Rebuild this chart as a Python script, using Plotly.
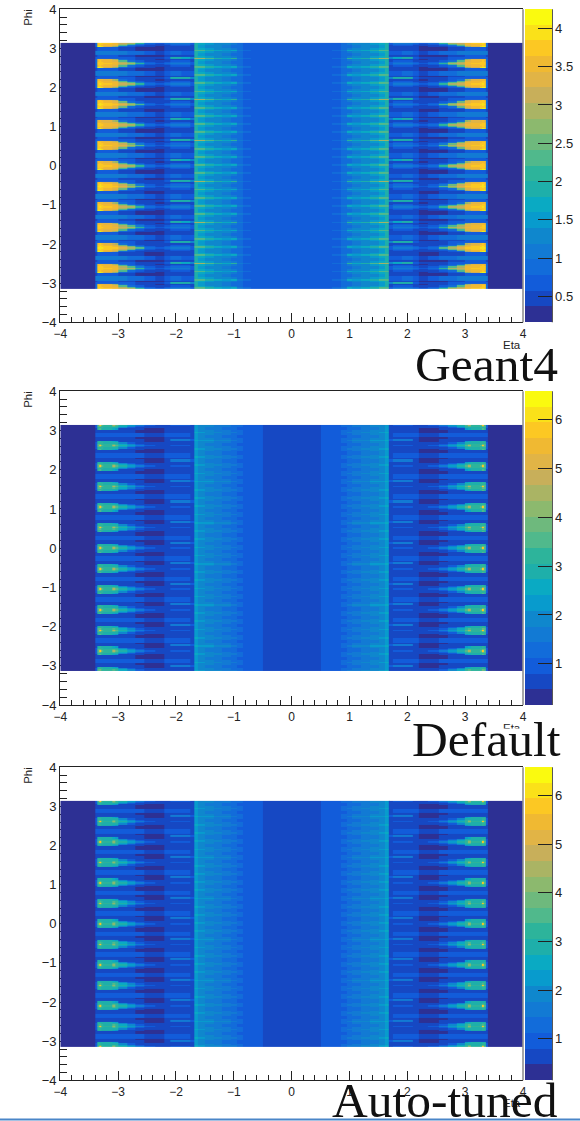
import math
import plotly.graph_objects as go

# ---------- palette (bottom to top) ----------
BAND_COLORS = ["#2d3094", "#1648c3", "#125cda", "#126cda", "#127ad4", "#0f87cd", "#089bcd", "#0aaac3",
               "#1eafaa", "#2db49b", "#50b98c", "#6eb97d", "#8cb96e", "#aab464", "#c8af5a", "#e1b446",
               "#f0b932", "#fcc823", "#fae119", "#fafa0f"]

# ---------- axes ----------
Z_RANGE_G4 = [0.16, 4.25]
Z_RANGE_TUNE = [0.15, 6.58]
Z_TICKS_G4 = [0.5, 1, 1.5, 2, 2.5, 3, 3.5, 4]
Z_TICKS_TUNE = [1, 2, 3, 4, 5, 6]
LABELS = ["Geant4", "Default", "Auto-tuned"]

# ---------- phi structure ----------
WEDGE_INDEX = [-6, -5, -4, -3, -2, -1, 0, 1, 2, 3, 4, 5, 6]
ROW_EDGES = [-0.2618, -0.20, -0.14, -0.115, -0.085, -0.05, -0.02, 0.02, 0.05, 0.085, 0.115, 0.17, 0.205, 0.2618]
ROW_CLASS = ["band", "dark", "dark", "edge3", "edge1", "mid", "core", "mid", "edge1", "edge2", "streak", "dark", "band"]
WEDGE_GAIN_G4 = [1.0, 0.99, 1.02, 0.98, 1.0, 1.02, 0.99, 1.01, 0.98, 1.02, 1.0, 0.99, 1.0]

# ---------- forward region, |eta| columns ----------
FWD_ETA = [1.68, 1.75, 1.9, 2.1, 2.2, 2.35, 2.55, 2.7, 2.85, 3.0, 3.05, 3.1, 3.25, 3.29, 3.33, 3.36, 3.4, 4.0]
FWD_G4 = {
    "dark":   [.55, .5, .5, .45, .34, .34, .36, .5, .55, .6, .6, .6, .65, .65, .6, .55, .2],
    "band":   [.7, .75, .8, .75, .55, .75, .95, .95, 1.0, 1.05, 1.05, 1.05, 1.1, 1.1, 1.05, 1.0, .2],
    "streak": [1.2, 1.8, 1.9, .7, .4, .42, .5, .6, .6, .65, .65, .65, .7, .7, .65, .6, .2],
    "core":   [.7, 1.0, 1.0, .8, .6, .9, 2.2, 2.9, 3.2, 3.6, 3.6, 3.7, 3.8, 3.85, 3.8, .9, .2],
    "mid":    [.6, .8, .8, .7, .5, .7, 1.0, 2.4, 3.0, 3.5, 3.5, 3.6, 3.7, 3.8, 3.75, .8, .2],
    "edge1":  [.55, .65, .65, .55, .42, .5, .7, .9, 2.4, 3.3, 3.3, 3.5, 3.6, 3.7, 3.65, .8, .2],
    "edge2":  [.5, .55, .55, .5, .36, .42, .55, .7, .8, 2.8, 3.0, 3.3, 3.5, 3.6, 3.5, .8, .2],
    "edge3":  [.5, .55, .55, .5, .36, .42, .55, .7, .8, 2.8, 3.0, 3.4, 3.9, 4.15, 4.1, .8, .2],
}
FWD_DEFAULT = {
    "dark":   [.55, .5, .5, .48, .42, .42, .45, .55, .58, .6, .6, .6, .62, .62, .6, .55, .2],
    "band":   [.75, .8, .85, .8, .52, .68, .95, .95, 1.0, 1.0, 1.0, 1.0, 1.05, 1.05, 1.0, .95, .2],
    "streak": [1.1, 1.5, 1.6, .65, .45, .46, .5, .6, .6, .6, .6, .6, .65, .65, .6, .55, .2],
    "core":   [.7, .9, .9, .75, .6, .8, 1.6, 2.2, 2.9, 3.4, 4.4, 3.2, 3.4, 5.9, 3.5, .8, .2],
    "mid":    [.6, .75, .75, .65, .52, .65, .9, 1.9, 2.7, 3.2, 3.5, 3.1, 3.3, 3.8, 3.4, .8, .2],
    "edge1":  [.55, .6, .6, .55, .5, .58, .7, .85, 2.0, 2.9, 3.0, 3.0, 3.1, 3.3, 3.2, .8, .2],
    "edge2":  [.52, .55, .55, .52, .45, .46, .55, .65, .75, 2.4, 2.6, 2.8, 3.0, 3.1, 3.0, .75, .2],
    "edge3":  [.52, .55, .55, .52, .45, .46, .55, .65, .75, 2.4, 2.6, 2.8, 3.0, 3.4, 3.1, .75, .2],
}
FWD_AUTO_RATIO = [1.0, 1.0, 1.0, 1.0, 1.0, 1.0, 1.0, 1.0, 1.0, 0.97, 0.97, 0.98, 0.98, 0.97, 0.98, 1.0, 1.0]

# ---------- barrel region, |eta| columns ----------
BAR_ETA = [0, 0.5, 0.7, 0.85, 0.95, 1.05, 1.2, 1.35, 1.5, 1.62, 1.69]
BAR_G4 = {
    "bg":     [.72, .73, .75, .85, .95, 1.1, 1.2, 1.3, 1.45, 1.85],
    "faint":  [.72, .73, .76, .92, 1.1, 1.25, 1.35, 1.5, 1.7, 2.0],
    "medium": [.72, .74, .8, 1.0, 1.65, 1.5, 1.6, 1.9, 2.3, 2.4],
    "strong": [.74, .76, .85, 1.1, 2.1, 1.7, 1.8, 2.3, 2.9, 3.0],
}
BAR_DEFAULT = {
    "bg":     [.76, .85, .9, 1.1, 1.2, 1.4, 1.5, 1.65, 1.8, 2.15],
    "faint":  [.76, .85, .92, 1.15, 1.35, 1.55, 1.65, 1.8, 1.95, 2.3],
    "medium": [.76, .85, .95, 1.2, 1.5, 1.75, 1.8, 2.0, 2.2, 2.45],
    "strong": [.77, .85, .95, 1.25, 1.6, 1.8, 1.95, 2.2, 2.4, 2.6],
}
BAR_AUTO_RATIO = [1.0, 1.0, 1.02, 1.0, 1.0, 1.0, 1.0, 1.0, 1.0, 1.0]
BAR_ROW_STEP_COUNT = 150
BAR_PATTERN = ["medium", "faint", "bg", "bg", "faint", "medium", "faint", "bg", "bg", "faint",
               "medium", "faint", "bg", "bg", "faint", "strong", "faint", "bg", "bg", "faint",
               "medium", "faint", "bg", "bg", "faint"]

# ---------- page geometry ----------
W, H = 580, 1121
PLOT_LEFT, PLOT_RIGHT = 60.3, 523.0
PANEL_TOP = [9.3, 391.3, 767.3]
PANEL_BOTTOM = [322.3, 705.0, 1080.3]
BAR_LEFT, BAR_RIGHT = 525.3, 552.3
FONT = "Liberation Sans"
INK = "#222222"


def px(v):
    return v / W


def py(v):
    return 1 - v / H


def wedge_rows():
    rows = []
    for n, k in enumerate(WEDGE_INDEX):
        center = k * math.pi / 6
        for i, cls in enumerate(ROW_CLASS):
            lo = max(center + ROW_EDGES[i], -math.pi)
            hi = min(center + ROW_EDGES[i + 1], math.pi)
            if hi > lo:
                rows.append((lo, hi, cls, n))
    return rows


def forward_z(table, gains=None, ratio=None):
    z = []
    for lo, hi, cls, n in wedge_rows():
        gain = gains[n] if gains else 1.0
        vals = [v * gain for v in table[cls]]
        if ratio:
            vals = [v * r for v, r in zip(vals, ratio)]
        z.append(vals)
    return z


def barrel_z(table, ratio=None):
    z = []
    for r in range(BAR_ROW_STEP_COUNT):
        vals = table[BAR_PATTERN[r % len(BAR_PATTERN)]]
        if ratio:
            vals = [v * q for v, q in zip(vals, ratio)]
        z.append(list(reversed(vals)) + list(vals))
    return z


ROWS = wedge_rows()
FWD_PHI = [r[0] for r in ROWS] + [ROWS[-1][1]]
BAR_PHI = [-math.pi + i * 2 * math.pi / BAR_ROW_STEP_COUNT for i in range(BAR_ROW_STEP_COUNT + 1)]
BAR_X = [-v for v in reversed(BAR_ETA)] + BAR_ETA[1:]
FWD_X_RIGHT = FWD_ETA
FWD_X_LEFT = [-v for v in reversed(FWD_ETA)]

PANELS = [
    (forward_z(FWD_G4, gains=WEDGE_GAIN_G4), barrel_z(BAR_G4), Z_RANGE_G4, Z_TICKS_G4),
    (forward_z(FWD_DEFAULT), barrel_z(BAR_DEFAULT), Z_RANGE_TUNE, Z_TICKS_TUNE),
    (forward_z(FWD_DEFAULT, ratio=FWD_AUTO_RATIO), barrel_z(BAR_DEFAULT, ratio=BAR_AUTO_RATIO), Z_RANGE_TUNE, Z_TICKS_TUNE),
]

n_bands = len(BAND_COLORS)
SCALE = []
for i, c in enumerate(BAND_COLORS):
    SCALE += [[i / n_bands, c], [(i + 1) / n_bands, c]]

fig = go.Figure()
layout = {}
shapes = []
annotations = []
for p, (fz, bz, zr, zt) in enumerate(PANELS):
    suffix = "" if p == 0 else str(p + 1)
    xa, ya, ca = "x" + suffix, "y" + suffix, "coloraxis" + suffix
    for x, y, z in [
        (BAR_X, BAR_PHI, bz),
        (FWD_X_LEFT, FWD_PHI, [list(reversed(r)) for r in fz]),
        (FWD_X_RIGHT, FWD_PHI, fz),
    ]:
        fig.add_trace(go.Heatmap(x=x, y=y, z=z, xaxis=xa, yaxis=ya, coloraxis=ca, hoverinfo="skip"))
    top, bottom = PANEL_TOP[p], PANEL_BOTTOM[p]
    layout["xaxis" + suffix] = dict(
        domain=[px(PLOT_LEFT), px(PLOT_RIGHT)], range=[-4, 4], anchor=ya, tick0=-4, dtick=1,
        ticks="inside", ticklen=9, tickcolor=INK, tickwidth=1, showgrid=False, zeroline=False,
        showline=True, linecolor=INK, linewidth=1.2, mirror=True, layer="below traces",
        tickfont=dict(family=FONT, size=12, color=INK),
        minor=dict(tick0=-4, dtick=0.2, ticks="inside", ticklen=5, tickcolor=INK, tickwidth=1, showgrid=False),
    )
    layout["yaxis" + suffix] = dict(
        domain=[py(bottom), py(top)], range=[-4, 4], anchor=xa, tick0=-4, dtick=1,
        ticks="inside", ticklen=14, tickcolor=INK, tickwidth=1, showgrid=False, zeroline=False,
        showline=True, linecolor=INK, linewidth=1.2, layer="below traces",
        tickfont=dict(family=FONT, size=13, color=INK),
        minor=dict(tick0=-4, dtick=0.2, ticks="inside", ticklen=7, tickcolor=INK, tickwidth=1, showgrid=False),
    )
    layout[ca] = dict(
        cmin=zr[0], cmax=zr[1], colorscale=SCALE,
        colorbar=dict(
            x=px(BAR_LEFT), xref="paper", xanchor="left", xpad=0, ypad=0,
            y=py(top), yref="paper", yanchor="top", len=bottom - top, lenmode="pixels",
            thickness=BAR_RIGHT - BAR_LEFT, thicknessmode="pixels", outlinewidth=0,
            tickmode="array", tickvals=zt, ticktext=[str(v) for v in zt],
            ticks="inside", ticklen=14, tickcolor=INK, tickwidth=1,
            tickfont=dict(family=FONT, size=13, color=INK),
        ),
    )
    # grey right edge of the frame and dark axis line of the colour bar
    shapes.append(dict(type="line", xref="paper", yref="paper", x0=px(PLOT_RIGHT), x1=px(PLOT_RIGHT),
                       y0=py(bottom), y1=py(top), line=dict(color="#8a8a8a", width=1.5), layer="above"))
    shapes.append(dict(type="line", xref="paper", yref="paper", x0=px(BAR_RIGHT), x1=px(BAR_RIGHT),
                       y0=py(bottom), y1=py(top), line=dict(color="#444444", width=1.2), layer="above"))
    annotations.append(dict(text="Phi", xref="paper", yref="paper", x=px(28), y=py(top - 2),
                            xanchor="center", yanchor="top", textangle=-90, showarrow=False,
                            font=dict(family=FONT, size=11.5, color=INK)))
    annotations.append(dict(text="Eta", xref="paper", yref="paper", x=px(512), y=py(bottom + 23),
                            xanchor="center", yanchor="middle", showarrow=False,
                            font=dict(family=FONT, size=11.5, color=INK)))
    if p == 1:
        annotations.append(dict(text=" ", xref="paper", yref="paper", x=px(512), y=py(728),
                                xanchor="center", yanchor="top", width=40, height=14, showarrow=False,
                                bgcolor="white", font=dict(size=8)))

for label, right, mid in zip(LABELS, [560, 563, 560], [365, 739, 1100]):
    annotations.append(dict(text=label, xref="paper", yref="paper", x=px(right), y=py(mid),
                            xanchor="right", yanchor="middle", showarrow=False,
                            font=dict(family="Liberation Serif", size=49.5, color="#111111")))

# thin blue rule along the bottom of the page
shapes.append(dict(type="line", xref="paper", yref="paper", x0=0, x1=1, y0=py(1119.5), y1=py(1119.5),
                   line=dict(color="#4a86c8", width=2), layer="above"))

fig.update_layout(width=W, height=H, margin=dict(l=0, r=0, t=0, b=0, autoexpand=False), paper_bgcolor="white",
                  plot_bgcolor="rgba(0,0,0,0)", showlegend=False, shapes=shapes, annotations=annotations,
                  **layout)
fig.write_html(
    "out.html",
    config={"displayModeBar": False},
    post_script="document.documentElement.style.cssText='margin:0;padding:0;overflow:hidden';"
                "document.body.style.cssText='margin:0;padding:0;overflow:hidden';",
)
